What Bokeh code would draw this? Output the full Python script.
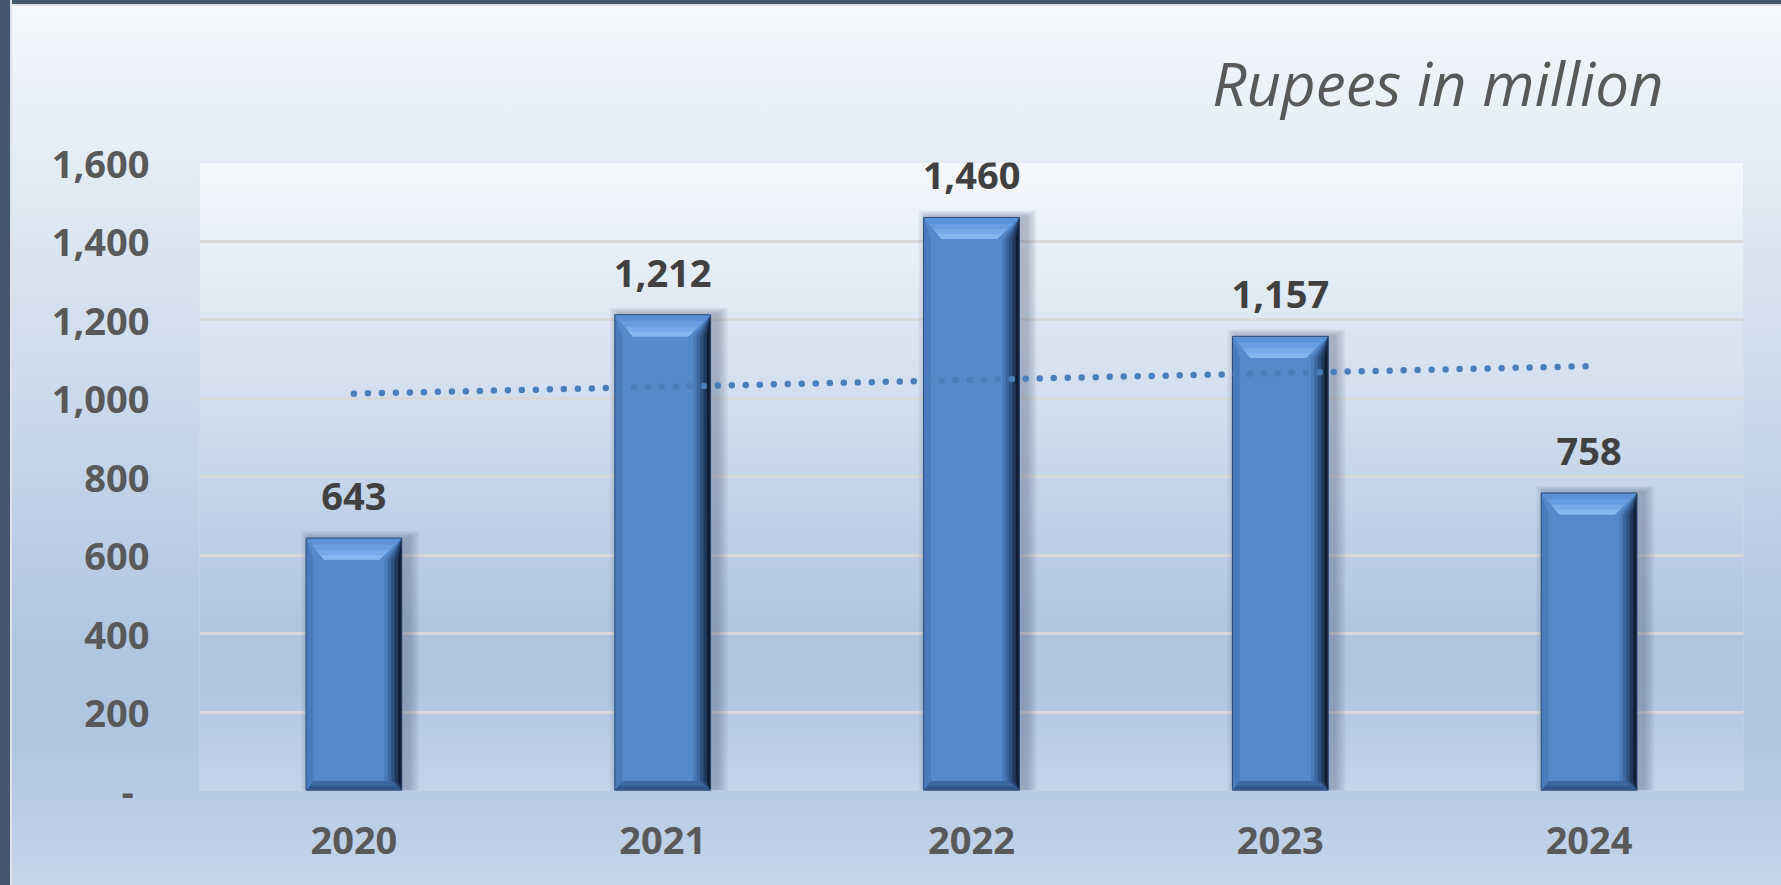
import numpy as np
from bokeh.plotting import figure
from bokeh.models import (Range1d, FixedTicker, NumeralTickFormatter, BoxAnnotation,
                          ColumnDataSource, LabelSet, InlineStyleSheet)
from bokeh.core.properties import value
from bokeh.embed import file_html
from bokeh.resources import INLINE

# ---------------- data ----------------
years = ["2020", "2021", "2022", "2023", "2024"]
values = [643, 1212, 1460, 1157, 758]
value_labels = ["643", "1,212", "1,460", "1,157", "758"]
y_ticks = [0, 200, 400, 600, 800, 1000, 1200, 1400, 1600]
unit_title = "Rupees in million"

# ---------------- layout (pixels) ----------------
W, H = 1781, 885
FL, FT, FW, FH = 199, 162, 1544, 628
FR = W - FL - FW
FB = H - FT - FH
y_max = 1600
x_lo, x_hi = -0.5, len(years) - 0.5


def hex2rgb(h):
    h = h.lstrip("#")
    return tuple(int(h[i:i + 2], 16) for i in (0, 2, 4))


stops = [(0.0, "#f5f8fc"), (0.74, "#afc5e0"), (0.83, "#afc5e0"), (1.0, "#c5d5ea")]


def grad(t):
    t = min(max(t, 0.0), 1.0)
    for (t0, c0), (t1, c1) in zip(stops[:-1], stops[1:]):
        if t0 <= t <= t1:
            f = 0 if t1 == t0 else (t - t0) / (t1 - t0)
            a, b = hex2rgb(c0), hex2rgb(c1)
            return "#%02x%02x%02x" % tuple(int(round(a[i] + (b[i] - a[i]) * f)) for i in range(3))
    return stops[-1][1]


css = """
:host {
  background:
    linear-gradient(to right, #46566f 0px, #46566f 10px, #dde2e9 10px, #dde2e9 12px, rgba(0,0,0,0) 12px),
    linear-gradient(to bottom, #46566f 0px, #46566f 4px, #dde2e9 4px, #dde2e9 6px,
                    #f5f8fc 6px, #afc5e0 656px, #afc5e0 735px, #c5d5ea 885px);
}
"""

p = figure(frame_width=FW, frame_height=FH, min_border_left=FL, min_border_right=FR,
           min_border_top=FT, min_border_bottom=FB, x_range=Range1d(x_lo, x_hi),
           y_range=Range1d(0, y_max), output_backend="svg", toolbar_location=None,
           title=unit_title)
p.stylesheets = [InlineStyleSheet(css=css)]
p.background_fill_color = "#d2deed"
p.border_fill_color = None
p.border_fill_alpha = 0
p.outline_line_color = None

# plot-area gradient
ppy = FH / y_max
step = 5
for py in range(0, FH, step):
    p.add_layout(BoxAnnotation(left=x_lo, right=x_hi, top=y_max - py / ppy,
                               bottom=max(y_max - (py + step + 0.6) / ppy, 0),
                               fill_color=grad(py / FH), fill_alpha=1.0,
                               line_color=None, level="image"))

# ---------------- bars ----------------
x = list(range(len(years)))
bw = 0.31
# soft shadow
for k in range(1, 7):
    p.vbar(x=[xi + 0.02 for xi in x], width=bw + 0.012 * k, top=[v + 3 * k for v in values],
           bottom=0, fill_color="#4f5f78", fill_alpha=0.075, line_color=None)

p.vbar(x=x, width=bw, top=values, bottom=0, fill_color="#5489cb", line_color=None)

bev = 55.0        # top bevel height (data units)
insl = 0.058      # top bevel inset left (x units)
insr = 0.072      # top bevel inset right
bot = 24.0        # bottom bevel height
sl = 0.024        # left side width

L = [xi - bw / 2 for xi in x]
R = [xi + bw / 2 for xi in x]

# left side bevel
p.patches(xs=[[l, l + sl, l + sl, l] for l in L],
          ys=[[v, v - bev, bot, 0] for v in values],
          fill_color="#4a7cbd", line_color=None)
# right side shading (gradient to dark)
for wdt, col in [(0.056, "#4a7ab8"), (0.045, "#3d669f"), (0.034, "#2f5080"),
                 (0.023, "#213a5c"), (0.012, "#111e31")]:
    p.patches(xs=[[r, r - wdt, r - wdt, r] for r in R],
              ys=[[v, v - bev, bot, 0] for v in values],
              fill_color=col, line_color=None)
# bottom bevel
p.patches(xs=[[l, r, r - 0.034, l + sl] for l, r in zip(L, R)],
          ys=[[0, 0, bot, bot] for v in values],
          fill_color="#3b669f", line_color=None)
p.patches(xs=[[l, r, r - 0.017, l + sl * 0.5] for l, r in zip(L, R)],
          ys=[[0, 0, bot * 0.45, bot * 0.45] for v in values],
          fill_color="#30568a", line_color=None)
# top bevel
p.patches(xs=[[l, r, r - insr, l + insl] for l, r in zip(L, R)],
          ys=[[v, v, v - bev, v - bev] for v in values],
          fill_color="#5a91d7", line_color=None)
for fr, col in [(0.3, "#679ee3"), (0.55, "#76aaea"), (0.78, "#85b7f1")]:
    p.patches(xs=[[l + insl * fr, r - insr * fr, r - insr, l + insl] for l, r in zip(L, R)],
              ys=[[v - bev * fr, v - bev * fr, v - bev, v - bev] for v in values],
              fill_color=col, line_color=None)
# body outline on top
p.vbar(x=x, width=bw, top=values, bottom=0, fill_color=None,
       line_color="#2c4a74", line_width=1)

# ---------------- linear trend line ----------------
coef = np.polyfit(x, values, 1)
trend_x = [x[0], x[-1]]
trend_y = list(np.polyval(coef, trend_x))
p.line(trend_x, trend_y, line_color="#4a7ebb", line_width=6.5, line_dash="0 14",
       line_cap="round")

# ---------------- data labels ----------------
src = ColumnDataSource(dict(x=x, y=values, t=value_labels))
p.add_layout(LabelSet(x="x", y="y", text="t", source=src, y_offset=28,
                      text_align="center", text_baseline="alphabetic",
                      text_font=value("Open Sans"), text_font_style="bold",
                      text_font_size="38px", text_color="#404040"))

# ---------------- title ----------------
p.title.align = "right"
p.title.offset = 80
p.title.standoff = 77
p.title.text_font = "Open Sans"
p.title.text_font_style = "italic"
p.title.text_font_size = "60px"
p.title.text_color = "#595959"

# ---------------- axes & grid ----------------
p.xaxis.ticker = FixedTicker(ticks=x)
p.xaxis.major_label_overrides = {i: yr for i, yr in enumerate(years)}
p.yaxis.ticker = FixedTicker(ticks=y_ticks)
p.yaxis.formatter = NumeralTickFormatter(format="0,0")
p.yaxis.major_label_overrides = {0: "-\u2005\u2006"}
for ax in (p.xaxis, p.yaxis):
    ax.axis_line_color = None
    ax.major_tick_line_color = None
    ax.minor_tick_line_color = None
    ax.major_label_text_font = "Open Sans"
    ax.major_label_text_font_style = "bold"
    ax.major_label_text_font_size = "38px"
    ax.major_label_text_color = "#595959"
p.yaxis.major_label_standoff = 44
p.xaxis.major_label_standoff = 30

p.xgrid.grid_line_color = None
p.ygrid.grid_line_color = "#d9d9d9"
p.ygrid.grid_line_width = 3

open("out.html", "w").write(file_html(p, INLINE))
